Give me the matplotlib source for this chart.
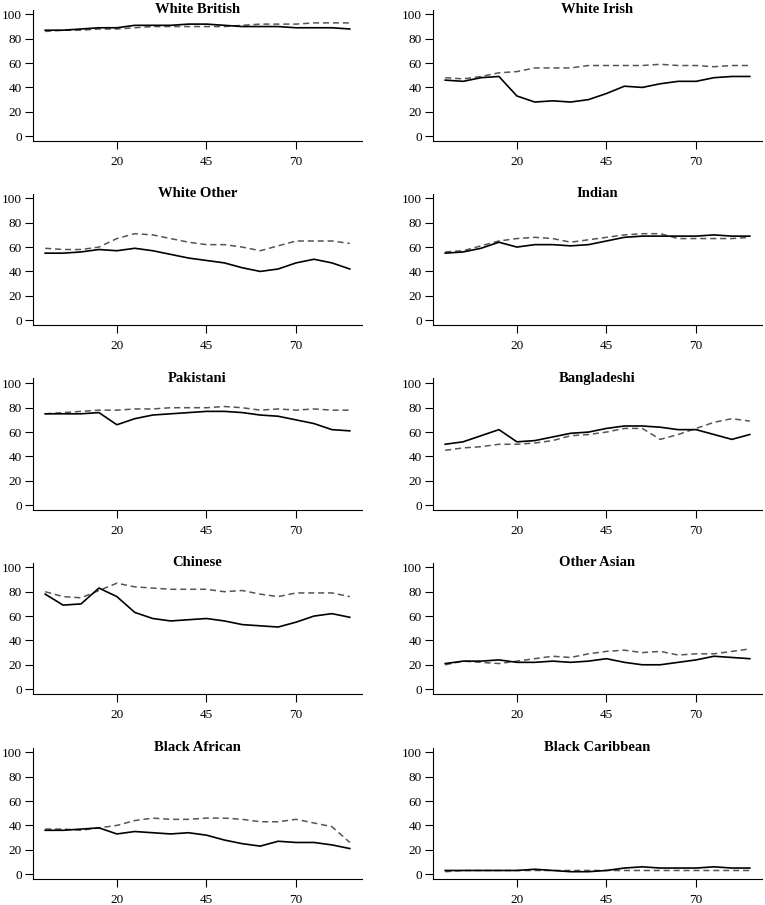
import matplotlib
matplotlib.use("Agg")
import matplotlib.pyplot as plt

# ages (x axis) shared by every panel
ages = [0, 5, 10, 15, 20, 25, 30, 35, 40, 45, 50, 55, 60, 65, 70, 75, 80, 85]
xticks = [20, 45, 70]
yticks = [0, 20, 40, 60, 80, 100]

groups = ["White British", "White Irish", "White Other", "Indian", "Pakistani",
          "Bangladeshi", "Chinese", "Other Asian", "Black African", "Black Caribbean"]

# solid line / dashed line values per group
white_british_solid = [87, 87, 88, 89, 89, 91, 91, 91, 92, 92, 91, 90, 90, 90, 89, 89, 89, 88]
white_british_dashed = [86, 87, 87, 88, 88, 89, 90, 90, 90, 90, 90, 91, 92, 92, 92, 93, 93, 93]
white_irish_solid = [46, 45, 48, 49, 33, 28, 29, 28, 30, 35, 41, 40, 43, 45, 45, 48, 49, 49]
white_irish_dashed = [48, 47, 49, 52, 53, 56, 56, 56, 58, 58, 58, 58, 59, 58, 58, 57, 58, 58]
white_other_solid = [55, 55, 56, 58, 57, 59, 57, 54, 51, 49, 47, 43, 40, 42, 47, 50, 47, 42]
white_other_dashed = [59, 58, 58, 60, 67, 71, 70, 67, 64, 62, 62, 60, 57, 61, 65, 65, 65, 63]
indian_solid = [55, 56, 59, 64, 60, 62, 62, 61, 62, 65, 68, 69, 69, 69, 69, 70, 69, 69]
indian_dashed = [56, 57, 61, 65, 67, 68, 67, 64, 66, 68, 70, 71, 71, 67, 67, 67, 67, 68]
pakistani_solid = [75, 75, 75, 76, 66, 71, 74, 75, 76, 77, 77, 76, 74, 73, 70, 67, 62, 61]
pakistani_dashed = [75, 76, 77, 78, 78, 79, 79, 80, 80, 80, 81, 80, 78, 79, 78, 79, 78, 78]
bangladeshi_solid = [50, 52, 57, 62, 52, 53, 56, 59, 60, 63, 65, 65, 64, 62, 62, 58, 54, 58]
bangladeshi_dashed = [45, 47, 48, 50, 50, 51, 53, 57, 58, 60, 63, 63, 54, 58, 63, 68, 71, 69]
chinese_solid = [78, 69, 70, 83, 76, 63, 58, 56, 57, 58, 56, 53, 52, 51, 55, 60, 62, 59]
chinese_dashed = [80, 76, 75, 81, 87, 84, 83, 82, 82, 82, 80, 81, 78, 76, 79, 79, 79, 76]
other_asian_solid = [21, 23, 23, 24, 22, 22, 23, 22, 23, 25, 22, 20, 20, 22, 24, 27, 26, 25]
other_asian_dashed = [20, 23, 22, 21, 23, 25, 27, 26, 29, 31, 32, 30, 31, 28, 29, 29, 31, 33]
black_african_solid = [36, 36, 37, 38, 33, 35, 34, 33, 34, 32, 28, 25, 23, 27, 26, 26, 24, 21]
black_african_dashed = [37, 37, 36, 38, 40, 44, 46, 45, 45, 46, 46, 45, 43, 43, 45, 42, 39, 26]
black_caribbean_solid = [3, 3, 3, 3, 3, 4, 3, 2, 2, 3, 5, 6, 5, 5, 5, 6, 5, 5]
black_caribbean_dashed = [2, 3, 3, 3, 3, 3, 3, 3, 3, 3, 3, 3, 3, 3, 3, 3, 3, 3]

solid_series = [white_british_solid, white_irish_solid, white_other_solid, indian_solid,
                pakistani_solid, bangladeshi_solid, chinese_solid, other_asian_solid,
                black_african_solid, black_caribbean_solid]
dashed_series = [white_british_dashed, white_irish_dashed, white_other_dashed, indian_dashed,
                 pakistani_dashed, bangladeshi_dashed, chinese_dashed, other_asian_dashed,
                 black_african_dashed, black_caribbean_dashed]

plt.rcParams['font.family'] = ['Liberation Serif', 'DejaVu Serif']

W, H = 765, 905
fig = plt.figure(figsize=(W / 100, H / 100), dpi=100)

col_left = [33 / W, 433 / W]
ax_w = 329 / W
row_bottom = [141 / H, 325 / H, 510 / H, 694 / H, 879 / H]
ax_h = 131.5 / H

for i, name in enumerate(groups):
    r, c = divmod(i, 2)
    ax = fig.add_axes([col_left[c], 1 - row_bottom[r], ax_w, ax_h])
    ax.plot(ages, dashed_series[i], color="#555555", lw=1.1, ls=(0, (4, 2.5)))
    ax.plot(ages, solid_series[i], color="black", lw=1.2)
    ax.set_xlim(-3.4, 88.4)
    ax.set_ylim(-4, 104)
    ax.set_xticks(xticks)
    ax.set_yticks(yticks)
    ax.spines['top'].set_visible(False)
    ax.spines['right'].set_visible(False)
    ax.spines['left'].set_linewidth(0.8)
    ax.spines['bottom'].set_linewidth(0.8)
    ax.tick_params(axis='y', direction='out', length=6, width=0.8, pad=2, labelsize=9.5)
    ax.tick_params(axis='x', direction='out', length=6, width=0.8, pad=5, labelsize=9.5)
    # title baseline sits just inside the top of the plot region
    ax.text(0.5, 0.975, name, transform=ax.transAxes, ha='center', va='baseline',
            fontsize=10.5, fontweight='bold')

fig.savefig("out.png", dpi=100)
